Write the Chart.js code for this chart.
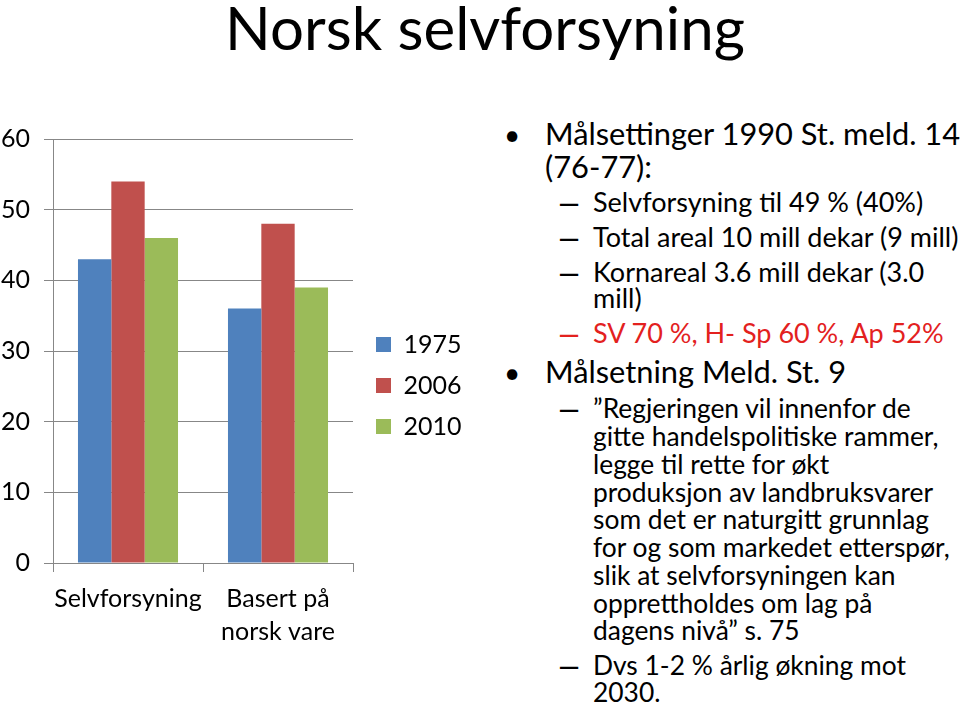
<!DOCTYPE html>
<html>
<head>
<meta charset="utf-8">
<script src="https://cdn.jsdelivr.net/npm/chart.js@4"></script>
<style>
	body { margin: 0; width: 960px; height: 706px; background: #fff; font-family: Lato, sans-serif; overflow: hidden; position: relative; }
	#chartBox { position: absolute; left: 0; top: 110px; width: 480px; height: 540px; }
	.ln { position: absolute; white-space: nowrap; color: #000; line-height: 1; }
	.dash { transform: scaleX(1.8); transform-origin: left center; }
</style>
</head>
<body>
<div id="chartBox"><canvas id="selfChart"></canvas></div>
<script>
const categories = ['Selvforsyning', ['Basert på', 'norsk vare']];
const years = ['1975', '2006', '2010'];
const values1975 = [43, 36];
const values2006 = [54, 48];
const values2010 = [46, 39];
const yMin = 0;
const yMax = 60;
const yStep = 10;

const barColors = ['#4F81BD', '#C0504D', '#9BBB59'];
const gridGray = '#878787';

// text of the slide, one entry per printed line
const notes = [
	{ lvl: 1, mark: '•', text: 'Målsettinger 1990 St. meld. 14', base: 145 },
	{ lvl: 1, text: '(76-77):', base: 178 },
	{ lvl: 2, mark: '–', text: 'Selvforsyning til 49 % (40%)', base: 212 },
	{ lvl: 2, mark: '–', text: 'Total areal 10 mill dekar (9 mill)', base: 247 },
	{ lvl: 2, mark: '–', text: 'Kornareal 3.6 mill dekar (3.0', base: 282 },
	{ lvl: 2, text: 'mill)', base: 308 },
	{ lvl: 2, mark: '–', text: 'SV 70 %, H- Sp 60 %, Ap 52%', base: 343, red: true },
	{ lvl: 1, mark: '•', text: 'Målsetning Meld. St. 9', base: 383 },
	{ lvl: 3, mark: '–', text: '”Regjeringen vil innenfor de', base: 418 },
	{ lvl: 3, text: 'gitte handelspolitiske rammer,', base: 446 },
	{ lvl: 3, text: 'legge til rette for økt', base: 474 },
	{ lvl: 3, text: 'produksjon av landbruksvarer', base: 502 },
	{ lvl: 3, text: 'som det er naturgitt grunnlag', base: 529 },
	{ lvl: 3, text: 'for og som markedet etterspør,', base: 557 },
	{ lvl: 3, text: 'slik at selvforsyningen kan', base: 585 },
	{ lvl: 3, text: 'opprettholdes om lag på', base: 613 },
	{ lvl: 3, text: 'dagens nivå” s. 75', base: 640 },
	{ lvl: 3, mark: '–', text: 'Dvs 1-2 % årlig økning mot', base: 675 },
	{ lvl: 3, text: '2030.', base: 702 }
];

const levelStyle = {
	1: { size: 30.8, markX: 504, textX: 545 },
	2: { size: 27, markX: 556, textX: 593 },
	3: { size: 26.4, markX: 556, textX: 593 }
};

// place a line so that its baseline lands on y
function putLine(text, x, base, size, color, extra, cls) {
	const el = document.createElement('div');
	el.className = 'ln' + (cls ? ' ' + cls : '');
	el.style.left = x + 'px';
	el.style.top = '0px';
	el.style.fontSize = size + 'px';
	el.style.color = color;
	if (extra) Object.assign(el.style, extra);
	el.textContent = text;
	const probe = document.createElement('span');
	probe.style.display = 'inline-block';
	probe.style.width = '0';
	probe.style.height = '0';
	el.appendChild(probe);
	document.body.appendChild(el);
	const off = probe.getBoundingClientRect().bottom - el.getBoundingClientRect().top;
	el.style.top = (base - off) + 'px';
	return el;
};

putLine('Norsk selvforsyning', 0, 50, 60, '#000', { width: '970px', textAlign: 'center' });

notes.forEach(n => {
	const st = levelStyle[n.lvl];
	const color = n.red ? '#E3211E' : '#000';
	if (n.mark === '•') putLine(n.mark, st.markX, n.base, 28, color);
	if (n.mark === '–') putLine(n.mark, st.markX, n.base, 25, color, { fontWeight: 'bold' }, 'dash');
	putLine(n.text, st.textX, n.base, st.size, color);
});

Chart.defaults.font.family = 'Lato, sans-serif';
Chart.defaults.color = '#000';

const legendSpot = {
	id: 'legendSpot',
	beforeInit(chart) {
		const fit = chart.legend.fit;
		chart.legend.fit = function () {
			fit.call(this);
			this.width = 117;
		};
	},
	afterLayout(chart) {
		chart.legend.left += 7;
		chart.legend.top += 2;
		chart.legend.bottom += 2;
	}
};

const selfChart = new Chart(document.getElementById('selfChart'), {
	type: 'bar',
	data: {
		labels: categories,
		datasets: [
			{ label: years[0], data: values1975, backgroundColor: barColors[0] },
			{ label: years[1], data: values2006, backgroundColor: barColors[1] },
			{ label: years[2], data: values2010, backgroundColor: barColors[2] }
		]
	},
	options: {
		responsive: true,
		maintainAspectRatio: false,
		animation: false,
		categoryPercentage: 0.667,
		barPercentage: 1,
		layout: { padding: { top: 7, right: 10, bottom: 0, left: 0 } },
		plugins: {
			tooltip: { enabled: false },
			legend: {
				position: 'right',
				labels: { boxWidth: 15, boxHeight: 15, padding: 16, font: { size: 25 } }
			}
		},
		scales: {
			x: {
				grid: { drawOnChartArea: false, color: gridGray, tickLength: 9 },
				border: { color: gridGray },
				ticks: { font: { size: 25, lineHeight: 1.32 }, padding: 10, maxRotation: 0, autoSkip: false },
				afterFit(scale) { scale.height = 87; }
			},
			y: {
				min: yMin,
				max: yMax,
				ticks: { stepSize: yStep, font: { size: 25 }, padding: 14 },
				grid: { color: gridGray, tickLength: 9 },
				border: { color: gridGray },
				afterFit(scale) { scale.width = 53; }
			}
		}
	},
	plugins: [legendSpot]
});
</script>
</body>
</html>
